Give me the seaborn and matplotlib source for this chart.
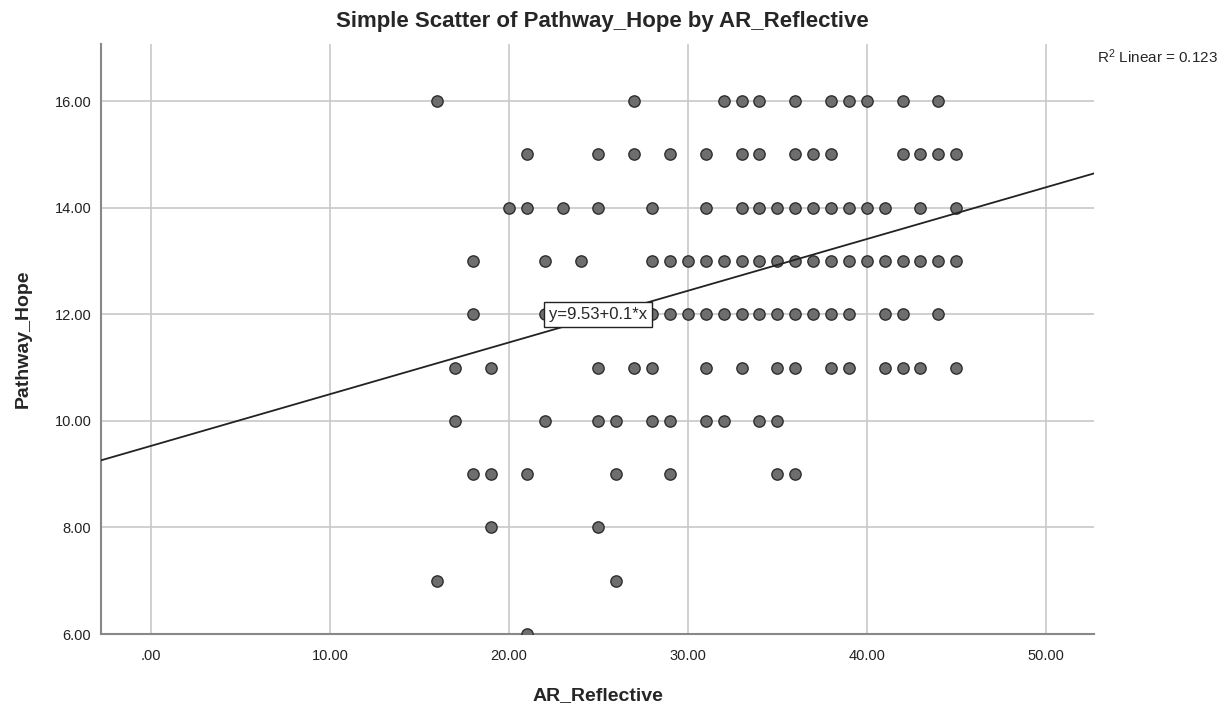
import numpy as np
import pandas as pd
import matplotlib.pyplot as plt
import seaborn as sns

# AR_Reflective values found at each Pathway_Hope level
hope_16 = [16, 27, 32, 33, 34, 36, 38, 39, 40, 42, 44]
hope_15 = [21, 25, 27, 29, 31, 33, 34, 36, 37, 38, 42, 43, 44, 45]
hope_14 = [20, 21, 23, 25, 28, 31, 33, 34, 35, 36, 37, 38, 39, 40, 41, 43, 45]
hope_13 = [18, 22, 24, 28, 29, 30, 31, 32, 33, 34, 35, 36, 37, 38, 39, 40, 41, 42, 43, 44, 45]
hope_12 = [18, 22, 25, 28, 29, 30, 31, 32, 33, 34, 35, 36, 37, 38, 39, 41, 42, 44]
hope_11 = [17, 19, 25, 27, 28, 31, 33, 35, 36, 38, 39, 41, 42, 43, 45]
hope_10 = [17, 22, 25, 26, 28, 29, 31, 32, 34, 35]
hope_9 = [18, 19, 21, 26, 29, 35, 36]
hope_8 = [19, 25]
hope_7 = [16, 26]
hope_6 = [21]

levels = {16: hope_16, 15: hope_15, 14: hope_14, 13: hope_13, 12: hope_12,
          11: hope_11, 10: hope_10, 9: hope_9, 8: hope_8, 7: hope_7, 6: hope_6}

rows = []
for hope, xs in levels.items():
    for x in xs:
        rows.append({'AR_Reflective': x, 'Pathway_Hope': hope})
df = pd.DataFrame(rows)

# fit line as reported
intercept = 9.53
slope = 0.097
r2 = 0.123

sns.set_style('white')
plt.rcParams['font.family'] = ['Liberation Sans', 'DejaVu Sans']

fig = plt.figure(figsize=(12.23, 7.08), dpi=100)
ax = fig.add_axes([101 / 1223, 1 - 634 / 708, (1094 - 101) / 1223, (634 - 44) / 708])

ax.grid(True, color='#c8c8c8', linewidth=1.2, zorder=0)
ax.set_axisbelow(True)

sns.scatterplot(data=df, x='AR_Reflective', y='Pathway_Hope', ax=ax,
                color='#6e6e6e', edgecolor='#2e2e2e', linewidth=1.0, s=66,
                zorder=3)

xlim = (-2.8, 52.7)
xs_line = np.array(xlim)
ax.plot(xs_line, intercept + slope * xs_line, color='#222222', linewidth=1.3, zorder=4)

ax.set_xlim(*xlim)
ax.set_ylim(6, 17.07)
ax.set_xticks([0, 10, 20, 30, 40, 50])
ax.set_xticklabels(['.00', '10.00', '20.00', '30.00', '40.00', '50.00'])
ax.set_yticks([6, 8, 10, 12, 14, 16])
ax.set_yticklabels(['6.00', '8.00', '10.00', '12.00', '14.00', '16.00'])
ax.tick_params(axis='both', labelsize=10.5, length=0, colors='#222222')
ax.tick_params(axis='y', pad=7)
ax.tick_params(axis='x', pad=11)

for side in ['top', 'right']:
    ax.spines[side].set_visible(False)
for side in ['left', 'bottom']:
    ax.spines[side].set_color('#888888')
    ax.spines[side].set_linewidth(1.5)

ax.text(25, 12, 'y=9.53+0.1*x', ha='center', va='center', fontsize=12,
        zorder=6, bbox=dict(boxstyle='square,pad=0.3', facecolor='white',
                            edgecolor='#222222', linewidth=1))

ax.set_xlabel('AR_Reflective', fontsize=14, fontweight='bold', labelpad=17)
ax.set_ylabel('Pathway_Hope', fontsize=14, fontweight='bold', labelpad=16)
fig.text(0.5 * (101 + 1094) / 1223 + 0.004, 1 - 22 / 708,
         'Simple Scatter of Pathway_Hope by AR_Reflective',
         ha='center', va='center', fontsize=16, fontweight='bold')
fig.text(1218 / 1223, 1 - 57 / 708, '$\\mathregular{R^2}$ Linear = 0.123',
         ha='right', va='center', fontsize=11)

fig.savefig('out.png', dpi=100)
